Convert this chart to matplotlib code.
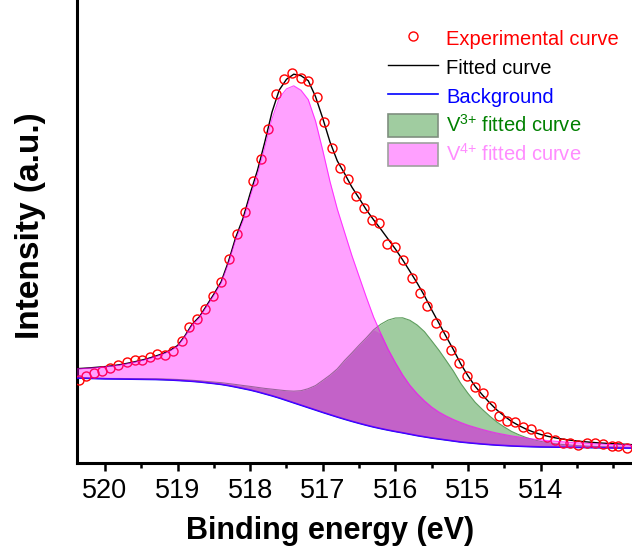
import matplotlib.pyplot as plt
import numpy as np
from matplotlib.lines import Line2D
from matplotlib.patches import Patch
from matplotlib.ticker import MultipleLocator

plt.rcParams['font.family'] = ['Liberation Sans', 'DejaVu Sans']
plt.rcParams['mathtext.fontset'] = 'custom'
plt.rcParams['mathtext.rm'] = 'Liberation Sans'
plt.rcParams['mathtext.default'] = 'regular'

# measured V 2p3/2 region (binding energy in eV, intensity in a.u.)
exp_energy = [520.36, 520.26, 520.15, 520.04, 519.93, 519.82, 519.70, 519.59, 519.49, 519.38,
              519.28, 519.17, 519.06, 518.94, 518.84, 518.73, 518.62, 518.51, 518.40, 518.29,
              518.18, 518.07, 517.96, 517.85, 517.75, 517.64, 517.53, 517.42, 517.30, 517.20,
              517.08, 516.98, 516.87, 516.76, 516.65, 516.54, 516.43, 516.32, 516.23, 516.12,
              516.01, 515.90, 515.77, 515.66, 515.56, 515.44, 515.33, 515.23, 515.12, 515.01,
              514.90, 514.79, 514.68, 514.57, 514.46, 514.35, 514.24, 514.13, 514.02, 513.91,
              513.80, 513.69, 513.60, 513.48, 513.36, 513.25, 513.14, 513.02, 512.93, 512.81]
exp_counts = [83, 87, 90, 92, 95, 98, 101, 103, 103, 106,
              109, 108, 112, 122, 136, 144, 154, 167, 181, 204,
              229, 251, 282, 304, 334, 369, 384, 390, 385, 382,
              366, 341, 315, 295, 284, 267, 255, 243, 240, 219,
              216, 203, 185, 170, 157, 140, 128, 113, 100, 87,
              76, 70, 57, 47, 42, 41, 36, 34, 29, 26,
              23, 20, 20, 18, 20, 20, 19, 17, 17, 15]

# fit components on a 0.1 eV grid
fit_energy = [520.4, 520.3, 520.2, 520.1, 520.0, 519.9, 519.8, 519.7, 519.6, 519.5,
              519.4, 519.3, 519.2, 519.1, 519.0, 518.9, 518.8, 518.7, 518.6, 518.5,
              518.4, 518.3, 518.2, 518.1, 518.0, 517.9, 517.8, 517.7, 517.6, 517.5,
              517.4, 517.3, 517.2, 517.1, 517.0, 516.9, 516.8, 516.7, 516.6, 516.5,
              516.4, 516.3, 516.2, 516.1, 516.0, 515.9, 515.8, 515.7, 515.6, 515.5,
              515.4, 515.3, 515.2, 515.1, 515.0, 514.9, 514.8, 514.7, 514.6, 514.5,
              514.4, 514.3, 514.2, 514.1, 514.0, 513.9, 513.8, 513.7, 513.6, 513.5,
              513.4, 513.3, 513.2, 513.1, 513.0, 512.9, 512.8, 512.7]
background = [85.0, 84.8, 84.6, 84.4, 84.2, 84.1, 84.0, 83.9, 83.8, 83.7,
              83.6, 83.5, 83.3, 83.0, 82.6, 82.2, 81.7, 81.1, 80.3, 79.5,
              78.6, 77.4, 76.0, 74.5, 73.0, 71.2, 69.2, 67.2, 65.0, 62.6,
              60.2, 57.8, 55.4, 53.0, 50.6, 48.3, 46.0, 43.8, 41.7, 39.7,
              37.8, 36.0, 34.4, 32.9, 31.5, 30.2, 28.8, 27.4, 26.2, 25.0,
              24.0, 23.0, 22.0, 21.0, 20.3, 19.6, 19.0, 18.4, 17.9, 17.5,
              17.1, 16.8, 16.5, 16.3, 16.1, 16.0, 15.9, 15.8, 15.7, 15.6,
              15.5, 15.4, 15.3, 15.2, 15.1, 15.0, 15.0, 14.9]
v3_peak = [0.3, 0.3, 0.3, 0.4, 0.4, 0.4, 0.5, 0.5, 0.5, 0.6,
           0.6, 0.7, 0.7, 0.8, 0.9, 0.9, 1.0, 1.1, 1.2, 1.4,
           1.7, 2.0, 2.5, 3.0, 3.6, 4.4, 5.4, 6.6, 8.0, 9.6,
           11.6, 14.5, 18.9, 24.4, 32.0, 39.6, 48.1, 58.7, 68.3, 78.1,
           87.4, 97.2, 104.4, 110.0, 113.5, 115.0, 113.9, 110.6, 105.2, 97.2,
           88.8, 79.4, 69.8, 58.7, 49.4, 41.0, 34.5, 28.5, 23.0, 18.5,
           14.5, 11.5, 9.0, 7.0, 5.5, 4.3, 3.4, 2.7, 2.2, 1.8,
           1.5, 1.3, 1.1, 1.0, 0.9, 0.8, 0.7, 0.6]
v4_peak = [9.0, 9.6, 10.3, 11.0, 11.8, 12.7, 13.8, 15.2, 16.8, 18.5,
           20.5, 22.8, 25.5, 29.0, 34.0, 44.0, 56.0, 64.0, 76.0, 88.0,
           101.0, 122.0, 147.0, 167.0, 193.0, 217.0, 246.0, 277.0, 300.0, 311.5,
           317.0, 315.0, 308.0, 289.0, 262.0, 233.0, 208.0, 187.0, 166.0, 147.0,
           128.0, 110.0, 95.0, 81.0, 69.0, 58.0, 49.0, 42.0, 36.0, 31.0,
           27.0, 24.0, 21.5, 19.5, 17.5, 16.0, 14.5, 13.2, 12.0, 11.0,
           10.0, 9.2, 8.4, 7.7, 7.0, 6.4, 5.9, 5.4, 5.0, 4.6,
           4.3, 4.0, 3.7, 3.5, 3.3, 3.1, 2.9, 2.7]

x_ticks = [520, 519, 518, 517, 516, 515, 514]

energy = np.array(fit_energy)
bg = np.array(background)
v3 = np.array(v3_peak)
v4 = np.array(v4_peak)
v3_top = bg + v3
v4_top = bg + v4
both_top = bg + np.minimum(v3, v4)
fitted = bg + v3 + v4

fig = plt.figure(figsize=(6.32, 5.52), dpi=100)
ax = fig.add_axes([77 / 632, 89 / 552, 555 / 632, 463 / 552])

# V3+ component, then the part shared with V4+
ax.fill_between(energy, bg, v3_top, color='#a0cca0', lw=0, zorder=1)
ax.plot(energy, v3_top, color='#5e9e5e', lw=0.8, zorder=1.5)
ax.fill_between(energy, bg, both_top, color='#a19ca8', lw=0, zorder=2)

ax.plot(energy, fitted, color='black', lw=1.0, zorder=3)
ax.plot(energy, bg, color='blue', lw=1.2, zorder=3)
ax.plot(exp_energy, exp_counts, 'o', mfc='none', mec='red', ms=6.5, mew=1.0, zorder=4)

# V4+ component laid over the rest as a translucent magenta
ax.fill_between(energy, bg, v4_top, color='magenta', alpha=0.37, lw=0, zorder=5)
ax.plot(energy, v4_top, color='magenta', lw=0.8, alpha=0.7, zorder=5)

ax.set_xlim(520.386, 512.74)
ax.set_ylim(0, 463)
ax.set_xticks(x_ticks)
ax.xaxis.set_minor_locator(MultipleLocator(0.5))
ax.set_yticks([])
for side in ['top', 'right']:
    ax.spines[side].set_visible(False)
for side in ['left', 'bottom']:
    ax.spines[side].set_linewidth(2.2)
ax.tick_params(axis='x', which='major', direction='out', length=6, width=1.8,
               labelsize=19.5, pad=5)
ax.tick_params(axis='x', which='minor', direction='out', length=3.6, width=1.8)

fig.text(330.5 / 632, 1 - 531 / 552, 'Binding energy (eV)', ha='center', va='center',
         fontsize=22, fontweight='bold')
fig.text(31 / 632, 1 - 226 / 552, 'Intensity (a.u.)', ha='center', va='center',
         rotation=90, fontsize=24, fontweight='bold')

handles = [
    Line2D([], [], marker='o', ls='none', mfc='none', mec='red', ms=6.5, mew=1.0),
    Line2D([], [], color='black', lw=1.0),
    Line2D([], [], color='blue', lw=1.2),
    Patch(facecolor='#a0cca0', edgecolor='#7f8f7f', lw=1.2),
    Patch(facecolor='#ffa0ff', edgecolor='#a0a0a0', lw=1.2),
]
labels = ['Experimental curve', 'Fitted curve', 'Background',
          'V$^{3{+}}$ fitted curve', 'V$^{4{+}}$ fitted curve']
leg = ax.legend(handles, labels, loc='upper left', bbox_to_anchor=(388 / 632, 1 - 27 / 552),
                bbox_transform=fig.transFigure, frameon=False, fontsize=14.5,
                handlelength=2.5, handleheight=1.4, labelspacing=0.28, handletextpad=0.4,
                borderpad=0, borderaxespad=0, numpoints=1,
                labelcolor=['red', 'black', 'blue', 'green', '#ff8cff'])
leg.set_zorder(10)

fig.savefig('out.png', dpi=100)
